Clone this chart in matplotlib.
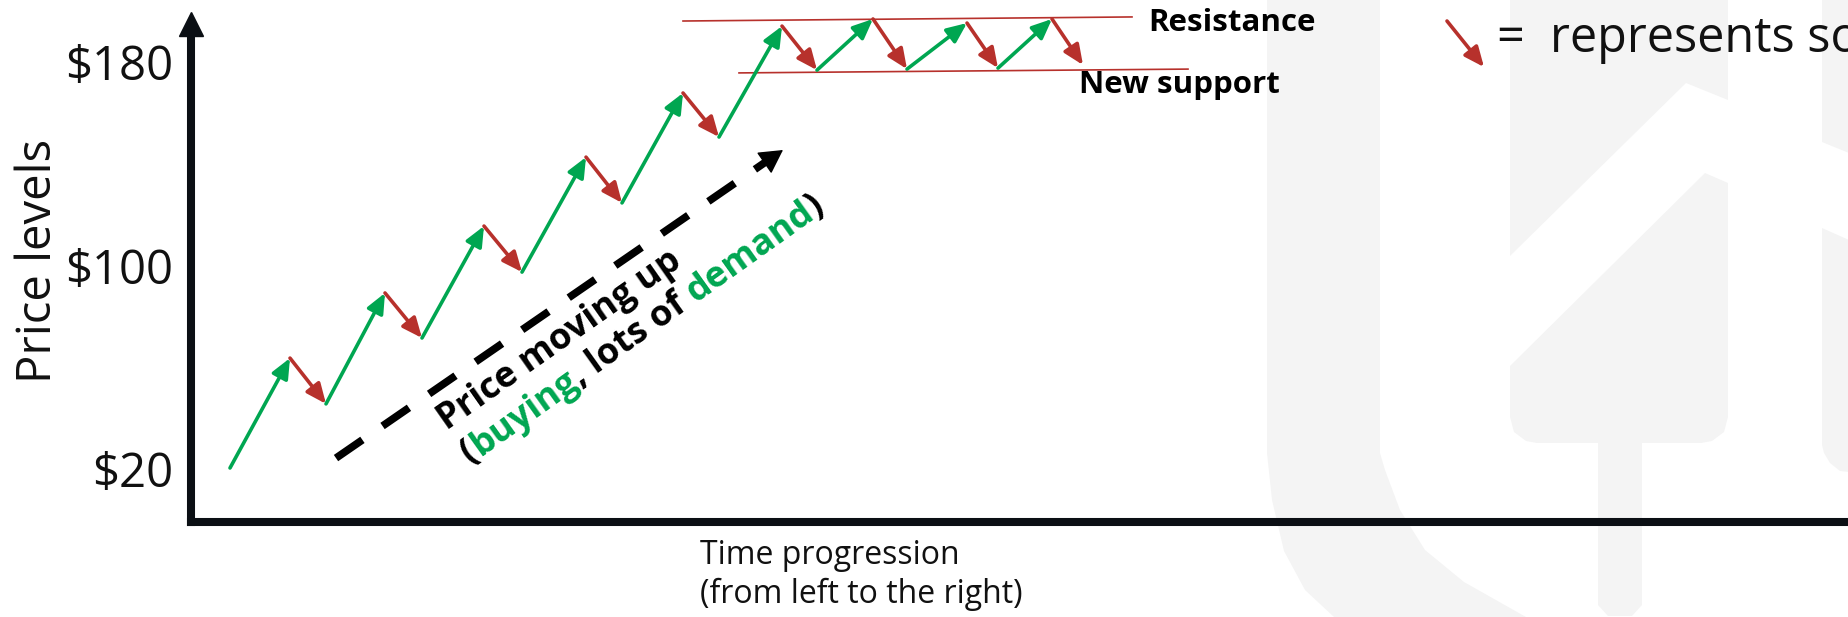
import numpy as np
import matplotlib
matplotlib.use('Agg')
import matplotlib.pyplot as plt
from matplotlib.patches import Polygon
from matplotlib.transforms import IdentityTransform

plt.rcParams['font.family'] = ['Open Sans', 'DejaVu Sans']

# Recorrido del precio: paso de tiempo (x) y nivel de precio (y)
tiempo = [3.9, 9.9, 13.5, 19.4, 23.1, 29.3, 33.1, 39.5, 43.1, 49.2,
          52.8, 59.1, 62.6, 68.2, 71.6, 77.6, 80.7, 86.1, 89.2]
precio = [20.4, 63.6, 45.6, 89.2, 71.5, 115.5, 97.4, 142.6, 124.6, 167.8,
          150.5, 194.1, 176.8, 196.9, 177.2, 195.3, 177.6, 196.9, 178.8]

# resistencia y nuevo soporte
resist_t = [49.2, 94.1]
resist_p = [196.1, 197.7]
soporte_t = [54.8, 99.7]
soporte_p = [175.7, 177.2]

# tendencia (flecha discontinua)
tend_t = [14.5, 59.2]
tend_p = [24.3, 145.4]

# flecha de la leyenda
leyenda_t = [125.6, 129.3]
leyenda_p = [196.1, 178.0]

precio_ticks = [20, 100, 180]
precio_labels = [r'\$20', r'\$100', r'\$180']

VERDE = '#00a651'
ROJO = '#b7312c'
NEGRO = '#0b0f14'
GRIS = '#f4f4f4'

# marca de agua (decoracion, en pixeles de la imagen)
marca = [
    [(1267, 0), (1267, 453), (1272, 500), (1284, 551), (1305, 590), (1334, 617),
     (1526, 617), (1464, 582), (1425, 550), (1400, 510), (1385, 470), (1380, 453), (1380, 0)],
    [(1510, 0), (1728, 0), (1728, 100), (1686, 83), (1510, 256)],
    [(1510, 366), (1705, 173), (1728, 183), (1728, 417), (1724, 432), (1712, 441), (1701, 443),
     (1642, 443), (1642, 605), (1632, 616), (1608, 616), (1598, 605), (1598, 443),
     (1537, 443), (1526, 441), (1514, 432), (1510, 417)],
    [(1822, 0), (1849, 0), (1849, 153), (1822, 142)],
    [(1822, 228), (1849, 240), (1849, 472), (1840, 471), (1830, 463), (1824, 453), (1822, 445)],
]

fig = plt.figure(figsize=(18.49, 6.17), dpi=100)

bg = fig.add_axes([0, 0, 1, 1])
bg.set_xlim(0, 1849)
bg.set_ylim(617, 0)
bg.axis('off')
for forma in marca:
    bg.add_patch(Polygon(forma, closed=True, facecolor=GRIS, edgecolor='none'))

ax = fig.add_axes([191 / 1849, 95 / 617, 1658 / 1849, 522 / 617])
ax.patch.set_alpha(0)
ax.set_xlim(0, 165.8)
ax.set_ylim(-0.83, 204.36)

# ejes con flechas
for lado in ['top', 'right']:
    ax.spines[lado].set_visible(False)
for lado in ['left', 'bottom']:
    ax.spines[lado].set_linewidth(5.8)
    ax.spines[lado].set_color(NEGRO)
ax.spines['left'].set_bounds(-0.83, 189.0)
ax.plot([0], [1 - 23.5 / 522], marker='^', markersize=16.6, color=NEGRO,
        transform=ax.transAxes, clip_on=False)
ax.plot([1 + 12 / 1658], [0], marker='>', markersize=17, color=NEGRO,
        transform=ax.transAxes, clip_on=False)

ax.set_xticks([])
ax.set_yticks(precio_ticks)
ax.set_yticklabels(precio_labels, fontsize=34, color='#111111')
ax.tick_params(axis='y', length=0, pad=13)

ax.set_ylabel('Price levels', fontsize=34, color='#111111')
ax.yaxis.set_label_coords(-0.078, 0.5)
ax.set_xlabel('Time progression\n(from left to the right)', fontsize=23,
              color='#111111', ha='left', va='top')
ax.xaxis.set_label_coords(0.307, -0.033)

# zigzag: verde = compras, rojo = ventas
for i in range(len(tiempo) - 1):
    color = VERDE if precio[i + 1] > precio[i] else ROJO
    ax.annotate('', xy=(tiempo[i + 1], precio[i + 1]), xytext=(tiempo[i], precio[i]),
                arrowprops=dict(arrowstyle='-|>,head_length=0.8,head_width=0.35',
                                color=color, lw=2.6, shrinkA=0, shrinkB=0,
                                mutation_scale=15))

ax.plot(resist_t, resist_p, color=ROJO, lw=1.2)
ax.plot(soporte_t, soporte_p, color=ROJO, lw=1.2)
ax.text(95.7, 192.2, 'Resistance', fontsize=22.5, weight='bold', ha='left', va='baseline')
ax.text(88.8, 167.8, 'New support', fontsize=22.5, weight='bold', ha='left', va='baseline')

# flecha de tendencia discontinua
fin_t = tend_t[1] - 0.04 * (tend_t[1] - tend_t[0])
fin_p = tend_p[1] - 0.04 * (tend_p[1] - tend_p[0])
ax.plot([tend_t[0], fin_t], [tend_p[0], fin_p], color='black', lw=5.5,
        dashes=(4.2, 3.2), dash_capstyle='butt')
ax.annotate('', xy=(tend_t[1], tend_p[1]), xytext=(fin_t, fin_p),
            arrowprops=dict(arrowstyle='-|>,head_length=1.0,head_width=0.55',
                            color='black', lw=1, shrinkA=0, shrinkB=0,
                            mutation_scale=15))


def texto_rotado(t0, p0, piezas, angulo, **kw):
    r = fig.canvas.get_renderer()
    x0, y0 = ax.transData.transform((t0, p0))
    ca, sa = np.cos(np.radians(angulo)), np.sin(np.radians(angulo))
    m = fig.text(0, 0, '|', **kw)
    w_barra = m.get_window_extent(r).width
    m.remove()
    prefijo = ''
    for s, color in piezas:
        d = 0
        if prefijo:
            m = fig.text(0, 0, prefijo + '|', **kw)
            d = m.get_window_extent(r).width - w_barra
            m.remove()
        fig.text(x0 + d * ca, y0 + d * sa, s, color=color, rotation=angulo,
                 rotation_mode='anchor', ha='left', va='baseline',
                 transform=IdentityTransform(), **kw)
        prefijo += s


texto_rotado(25.6, 35.0, [('Price moving up', 'black')], 35.0,
             fontsize=26, weight='bold')
texto_rotado(27.9, 22.0, [('(', 'black'), ('buying', VERDE), (', lots of ', 'black'),
                          ('demand', VERDE), (')', 'black')], 35.5,
             fontsize=26, weight='bold')

# leyenda
ax.annotate('', xy=(leyenda_t[1], leyenda_p[1]), xytext=(leyenda_t[0], leyenda_p[0]),
            arrowprops=dict(arrowstyle='-|>,head_length=0.8,head_width=0.35',
                            color=ROJO, lw=2.6, shrinkA=0, shrinkB=0,
                            mutation_scale=15), annotation_clip=False)
ax.text(130.6, 183.9, '=  represents sold', fontsize=35, color='#111111',
        ha='left', va='baseline', clip_on=False)

fig.savefig('out.png', dpi=100)
